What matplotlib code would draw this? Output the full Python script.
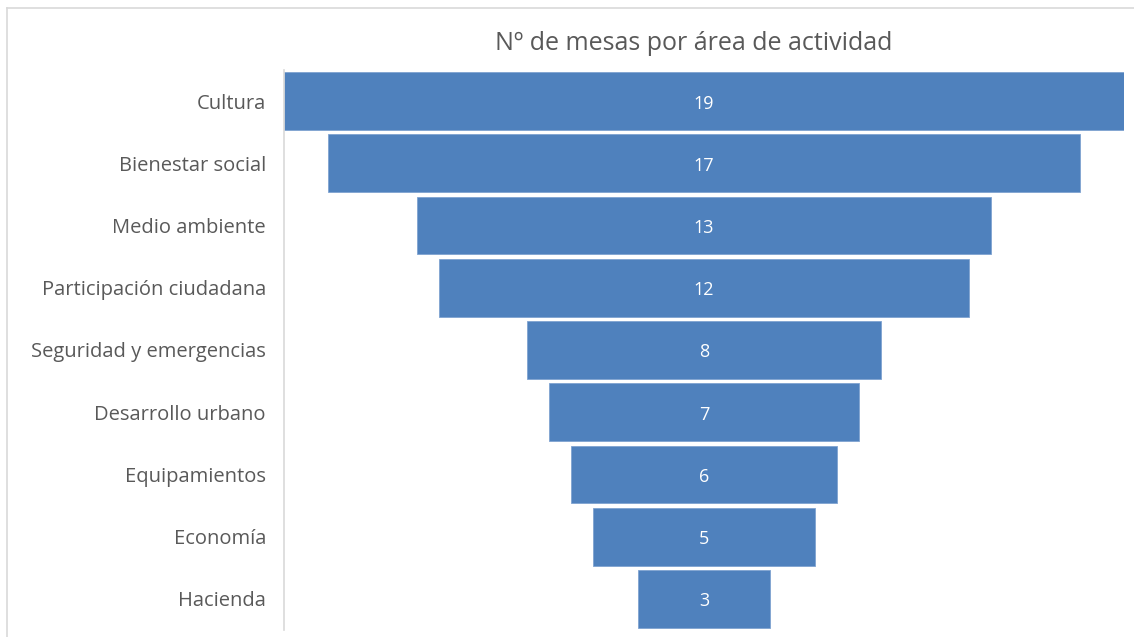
import matplotlib
matplotlib.use("Agg")
import matplotlib.pyplot as plt
from matplotlib.lines import Line2D

categories = ["Cultura", "Bienestar social", "Medio ambiente", "Participación ciudadana",
              "Seguridad y emergencias", "Desarrollo urbano", "Equipamientos", "Economía", "Hacienda"]
values = [19, 17, 13, 12, 8, 7, 6, 5, 3]
title = "Nº de mesas por área de actividad"

W, H = 1134, 637
fig = plt.figure(figsize=(W / 100, H / 100), dpi=100)
plt.rcParams['font.family'] = ['Open Sans', 'DejaVu Sans']

# chart border (top and left only visible)
fig.add_artist(Line2D([7 / W, 1.0], [1 - 8 / H, 1 - 8 / H], transform=fig.transFigure,
                      color="#D9D9D9", linewidth=1.2))
fig.add_artist(Line2D([7 / W, 7 / W], [0, 1 - 8 / H], transform=fig.transFigure,
                      color="#D9D9D9", linewidth=1.2))

ax = fig.add_axes([284 / W, 1 - 630 / H, (1124 - 284) / W, (630 - 70) / H])
n = len(values)
vmax = max(values)
ys = list(range(n))
lefts = [-v / 2 for v in values]
ax.barh(ys, values, left=lefts, height=0.93, color="#4F81BD", edgecolor="#7FA3D1", linewidth=0.6)
for y, v in zip(ys, values):
    ax.text(0, y + 0.04, str(v), ha="center", va="center", color="white", fontsize=13)
ax.set_xlim(-vmax / 2, vmax / 2)
ax.set_ylim(n - 0.5, -0.5)
ax.set_yticks(ys)
ax.set_yticklabels(categories, fontsize=14.5, color="#595959")
ax.tick_params(axis="y", length=0, pad=13)
ax.set_xticks([])
for s in ["top", "right", "bottom"]:
    ax.spines[s].set_visible(False)
ax.spines["left"].set_color("#D9D9D9")
ax.spines["left"].set_linewidth(1.2)

fig.text(694 / W, 1 - 43 / H, title, ha="center", va="center", fontsize=18, color="#595959")

fig.savefig("out.png", dpi=100)
